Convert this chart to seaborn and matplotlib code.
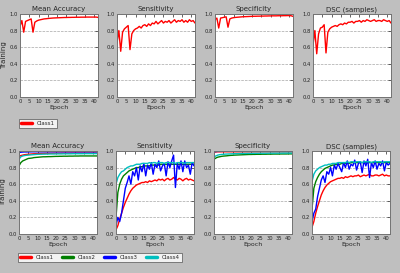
import matplotlib
matplotlib.use('Agg')
import matplotlib.pyplot as plt
import pandas as pd
import seaborn as sns
from matplotlib.lines import Line2D

epochs = list(range(43))
metrics = ['Mean Accuracy', 'Sensitivity', 'Specificity', 'DSC (samples)']
classes = ['Class1', 'Class2', 'Class3', 'Class4']
colors = ['#ff0000', '#007f00', '#0000ff', '#00bfbf']

# top row: single class training curves
top_acc = [0.85, 0.92, 0.78, 0.91, 0.92, 0.93, 0.94, 0.78, 0.90, 0.915,
           0.925, 0.93, 0.935, 0.94, 0.942, 0.945, 0.947, 0.949, 0.951, 0.952,
           0.953, 0.954, 0.955, 0.956, 0.957, 0.957, 0.958, 0.958, 0.959, 0.959,
           0.96, 0.96, 0.96, 0.961, 0.961, 0.961, 0.962, 0.962, 0.962, 0.962,
           0.962, 0.962, 0.958]
top_sens = [0.65, 0.80, 0.55, 0.78, 0.82, 0.84, 0.86, 0.57, 0.76, 0.80,
            0.82, 0.83, 0.85, 0.83, 0.86, 0.87, 0.85, 0.88, 0.86, 0.89,
            0.88, 0.91, 0.88, 0.90, 0.92, 0.89, 0.91, 0.90, 0.92, 0.89,
            0.91, 0.93, 0.90, 0.92, 0.91, 0.93, 0.90, 0.92, 0.90, 0.93,
            0.91, 0.92, 0.89]
top_spec = [0.93, 0.95, 0.83, 0.95, 0.955, 0.96, 0.965, 0.84, 0.94, 0.95,
            0.955, 0.958, 0.96, 0.962, 0.964, 0.966, 0.967, 0.968, 0.969, 0.97,
            0.971, 0.972, 0.972, 0.973, 0.973, 0.974, 0.974, 0.975, 0.975, 0.976,
            0.976, 0.977, 0.977, 0.977, 0.978, 0.978, 0.978, 0.979, 0.979, 0.98,
            0.98, 0.978, 0.97]
top_dsc = [0.62, 0.80, 0.52, 0.76, 0.83, 0.84, 0.87, 0.53, 0.78, 0.82,
           0.84, 0.85, 0.86, 0.85, 0.87, 0.88, 0.87, 0.89, 0.88, 0.90,
           0.90, 0.91, 0.89, 0.91, 0.91, 0.92, 0.90, 0.92, 0.91, 0.93,
           0.92, 0.91, 0.92, 0.93, 0.91, 0.92, 0.92, 0.91, 0.93, 0.92,
           0.91, 0.92, 0.89]

# bottom row: four classes
acc_c1 = [0.93, 0.945, 0.95, 0.955, 0.958, 0.96, 0.962, 0.964, 0.966, 0.967,
          0.968, 0.969, 0.97, 0.97, 0.971, 0.971, 0.972, 0.972, 0.972, 0.973,
          0.973, 0.973, 0.973, 0.974, 0.974, 0.974, 0.974, 0.974, 0.975, 0.975,
          0.975, 0.975, 0.975, 0.975, 0.975, 0.975, 0.975, 0.975, 0.975, 0.975,
          0.975, 0.975, 0.975]
acc_c2 = [0.82, 0.86, 0.88, 0.89, 0.90, 0.91, 0.912, 0.915, 0.92, 0.922,
          0.924, 0.926, 0.928, 0.93, 0.93, 0.931, 0.932, 0.932, 0.933, 0.934,
          0.935, 0.935, 0.936, 0.936, 0.937, 0.937, 0.937, 0.938, 0.938, 0.938,
          0.939, 0.939, 0.939, 0.94, 0.94, 0.94, 0.94, 0.94, 0.94, 0.94,
          0.94, 0.94, 0.94]
acc_c3 = [0.98, 0.985, 0.987, 0.988, 0.988, 0.989, 0.989, 0.99, 0.99, 0.99,
          0.99, 0.99, 0.99, 0.99, 0.99, 0.99, 0.99, 0.99, 0.99, 0.99,
          0.99, 0.99, 0.99, 0.99, 0.99, 0.99, 0.99, 0.99, 0.99, 0.99,
          0.99, 0.99, 0.99, 0.99, 0.99, 0.99, 0.99, 0.99, 0.99, 0.99,
          0.99, 0.99, 0.99]
acc_c4 = [0.90, 0.93, 0.94, 0.945, 0.948, 0.95, 0.952, 0.954, 0.956, 0.958,
          0.96, 0.96, 0.961, 0.962, 0.962, 0.963, 0.963, 0.964, 0.964, 0.964,
          0.965, 0.965, 0.965, 0.965, 0.966, 0.966, 0.966, 0.966, 0.966, 0.967,
          0.967, 0.967, 0.967, 0.967, 0.967, 0.968, 0.968, 0.968, 0.968, 0.968,
          0.968, 0.968, 0.968]

sens_c1 = [0.05, 0.10, 0.18, 0.25, 0.32, 0.38, 0.43, 0.48, 0.52, 0.55,
           0.57, 0.59, 0.60, 0.61, 0.62, 0.62, 0.63, 0.62, 0.64, 0.63,
           0.64, 0.65, 0.64, 0.66, 0.65, 0.66, 0.64, 0.66, 0.67, 0.65,
           0.66, 0.68, 0.66, 0.65, 0.67, 0.66, 0.64, 0.66, 0.67, 0.65,
           0.66, 0.65, 0.64]
sens_c2 = [0.20, 0.50, 0.60, 0.66, 0.70, 0.72, 0.74, 0.76, 0.77, 0.78,
           0.79, 0.80, 0.80, 0.81, 0.81, 0.82, 0.82, 0.82, 0.82, 0.83,
           0.83, 0.83, 0.83, 0.83, 0.84, 0.84, 0.84, 0.84, 0.84, 0.84,
           0.84, 0.84, 0.84, 0.84, 0.84, 0.84, 0.84, 0.84, 0.84, 0.84,
           0.84, 0.84, 0.84]
sens_c3 = [0.10, 0.20, 0.15, 0.25, 0.40, 0.55, 0.62, 0.70, 0.60, 0.75,
           0.70, 0.80, 0.65, 0.82, 0.75, 0.85, 0.70, 0.83, 0.78, 0.86,
           0.72, 0.84, 0.80, 0.88, 0.76, 0.82, 0.85, 0.70, 0.87, 0.80,
           0.88, 0.95, 0.56, 0.85, 0.78, 0.88, 0.75, 0.88, 0.80, 0.83,
           0.72, 0.86, 0.82]
sens_c4 = [0.60, 0.68, 0.72, 0.75, 0.76, 0.78, 0.80, 0.81, 0.82, 0.82,
           0.83, 0.84, 0.84, 0.84, 0.85, 0.85, 0.85, 0.85, 0.86, 0.85,
           0.86, 0.86, 0.85, 0.86, 0.86, 0.86, 0.85, 0.86, 0.86, 0.86,
           0.86, 0.86, 0.85, 0.86, 0.86, 0.86, 0.86, 0.85, 0.86, 0.86,
           0.86, 0.86, 0.86]

spec_c1 = [0.985, 0.988, 0.99, 0.99, 0.99, 0.99, 0.99, 0.99, 0.99, 0.99,
           0.99, 0.99, 0.99, 0.99, 0.99, 0.99, 0.99, 0.99, 0.99, 0.99,
           0.99, 0.99, 0.99, 0.99, 0.99, 0.99, 0.99, 0.99, 0.99, 0.99,
           0.99, 0.99, 0.99, 0.99, 0.99, 0.99, 0.99, 0.99, 0.99, 0.99,
           0.99, 0.99, 0.99]
spec_c2 = [0.90, 0.915, 0.925, 0.93, 0.935, 0.938, 0.94, 0.942, 0.945, 0.947,
           0.948, 0.95, 0.951, 0.952, 0.953, 0.954, 0.955, 0.956, 0.957, 0.958,
           0.958, 0.959, 0.959, 0.96, 0.96, 0.96, 0.961, 0.961, 0.961, 0.962,
           0.962, 0.962, 0.963, 0.963, 0.963, 0.963, 0.964, 0.964, 0.964, 0.964,
           0.965, 0.965, 0.965]
spec_c3 = [0.99, 0.993, 0.995, 0.995, 0.996, 0.996, 0.996, 0.996, 0.996, 0.996,
           0.996, 0.996, 0.996, 0.996, 0.996, 0.996, 0.996, 0.996, 0.996, 0.996,
           0.996, 0.996, 0.996, 0.996, 0.996, 0.996, 0.996, 0.996, 0.996, 0.996,
           0.996, 0.996, 0.996, 0.996, 0.996, 0.996, 0.996, 0.996, 0.996, 0.996,
           0.996, 0.996, 0.996]
spec_c4 = [0.93, 0.94, 0.95, 0.955, 0.958, 0.96, 0.962, 0.963, 0.964, 0.965,
           0.966, 0.967, 0.968, 0.968, 0.969, 0.97, 0.97, 0.97, 0.971, 0.971,
           0.971, 0.972, 0.972, 0.972, 0.972, 0.973, 0.973, 0.973, 0.973, 0.973,
           0.974, 0.974, 0.974, 0.974, 0.974, 0.974, 0.974, 0.975, 0.975, 0.975,
           0.975, 0.975, 0.975]

dsc_c1 = [0.08, 0.15, 0.25, 0.33, 0.40, 0.47, 0.52, 0.56, 0.59, 0.61,
          0.63, 0.64, 0.65, 0.66, 0.67, 0.67, 0.68, 0.67, 0.69, 0.68,
          0.69, 0.70, 0.69, 0.70, 0.70, 0.71, 0.69, 0.70, 0.71, 0.70,
          0.71, 0.72, 0.70, 0.70, 0.71, 0.71, 0.70, 0.71, 0.72, 0.70,
          0.71, 0.70, 0.70]
dsc_c2 = [0.30, 0.55, 0.63, 0.68, 0.72, 0.75, 0.77, 0.79, 0.80, 0.81,
          0.82, 0.83, 0.83, 0.84, 0.84, 0.84, 0.85, 0.85, 0.85, 0.85,
          0.85, 0.86, 0.86, 0.86, 0.86, 0.86, 0.86, 0.86, 0.86, 0.86,
          0.86, 0.86, 0.86, 0.86, 0.86, 0.86, 0.86, 0.86, 0.86, 0.86,
          0.86, 0.86, 0.86]
dsc_c3 = [0.15, 0.25, 0.30, 0.45, 0.55, 0.65, 0.70, 0.62, 0.75, 0.72,
          0.80, 0.70, 0.83, 0.78, 0.85, 0.80, 0.75, 0.86, 0.80, 0.88,
          0.78, 0.84, 0.82, 0.89, 0.77, 0.85, 0.87, 0.74, 0.88, 0.82,
          0.90, 0.68, 0.86, 0.80, 0.88, 0.78, 0.85, 0.82, 0.88, 0.76,
          0.86, 0.83, 0.85]
dsc_c4 = [0.63, 0.72, 0.76, 0.78, 0.80, 0.81, 0.82, 0.83, 0.83, 0.84,
          0.84, 0.85, 0.85, 0.85, 0.86, 0.86, 0.86, 0.86, 0.86, 0.87,
          0.86, 0.87, 0.87, 0.86, 0.87, 0.87, 0.87, 0.86, 0.87, 0.87,
          0.87, 0.87, 0.86, 0.87, 0.87, 0.87, 0.87, 0.87, 0.86, 0.87,
          0.87, 0.87, 0.87]

top_series = [top_acc, top_sens, top_spec, top_dsc]
bottom_series = [
    [acc_c1, acc_c2, acc_c3, acc_c4],
    [sens_c1, sens_c2, sens_c3, sens_c4],
    [spec_c1, spec_c2, spec_c3, spec_c4],
    [dsc_c1, dsc_c2, dsc_c3, dsc_c4],
]


def long_frame(series_list, names):
    rows = []
    for name, vals in zip(names, series_list):
        for e, v in zip(epochs, vals):
            rows.append({'Epoch': e, 'value': v, 'cls': name})
    return pd.DataFrame(rows)


def style_axis(ax, title, first):
    ax.set_title(title, fontsize=5, pad=2)
    ax.set_xlim(0, 42)
    ax.set_ylim(0, 1.0)
    ax.set_xticks(range(0, 41, 5))
    ax.set_yticks([0, 0.2, 0.4, 0.6, 0.8, 1.0])
    ax.set_yticklabels(['0.0', '0.2', '0.4', '0.6', '0.8', '1.0'])
    ax.tick_params(labelsize=3.8, length=2, width=0.5, pad=1.5,
                   direction='in', top=True, right=True)
    ax.set_xlabel('Epoch', fontsize=4.5, labelpad=1)
    ax.set_ylabel('Training' if first else '', fontsize=5, labelpad=2)
    ax.yaxis.grid(True, linestyle='--', color='0.65', linewidth=0.5)
    ax.set_facecolor('white')
    for s in ax.spines.values():
        s.set_color('0.45')
        s.set_linewidth(0.7)


sns.set_style('white')
plt.rcParams['font.family'] = ['DejaVu Sans']

fig = plt.figure(figsize=(4.0, 2.73), dpi=100, facecolor='#bfbfbf')

top_lefts = [0.05, 0.2925, 0.5375, 0.7825]
bottom_lefts = [0.0475, 0.29, 0.535, 0.78]

for i, m in enumerate(metrics):
    ax = fig.add_axes([top_lefts[i], 0.645, 0.195, 0.304])
    df = long_frame([top_series[i]], ['Class1'])
    sns.lineplot(data=df, x='Epoch', y='value', hue='cls', palette=[colors[0]],
                 estimator=None, linewidth=1.0, legend=False, ax=ax)
    style_axis(ax, m, i == 0)

for i, m in enumerate(metrics):
    ax = fig.add_axes([bottom_lefts[i], 0.143, 0.195, 0.304])
    df = long_frame(bottom_series[i], classes)
    sns.lineplot(data=df, x='Epoch', y='value', hue='cls', palette=colors,
                 estimator=None, linewidth=1.0, legend=False, ax=ax)
    style_axis(ax, m, i == 0)

leg_kw = dict(fontsize=4, frameon=True, fancybox=False, edgecolor='0.3',
              handlelength=2.0, borderpad=0.4, handletextpad=0.8,
              columnspacing=1.5, borderaxespad=0)

h1 = [Line2D([], [], color=colors[0], linewidth=2.5)]
lg1 = fig.legend(h1, ['Class1'], loc='upper left',
                 bbox_to_anchor=(19 / 400, 1 - 119 / 273), ncol=1, **leg_kw)
lg1.get_frame().set_linewidth(0.6)

h2 = [Line2D([], [], color=c, linewidth=2.5) for c in colors]
lg2 = fig.legend(h2, classes, loc='upper left',
                 bbox_to_anchor=(18 / 400, 1 - 253 / 273), ncol=4, **leg_kw)
lg2.get_frame().set_linewidth(0.6)

fig.savefig('out.png', dpi=100, facecolor=fig.get_facecolor())
